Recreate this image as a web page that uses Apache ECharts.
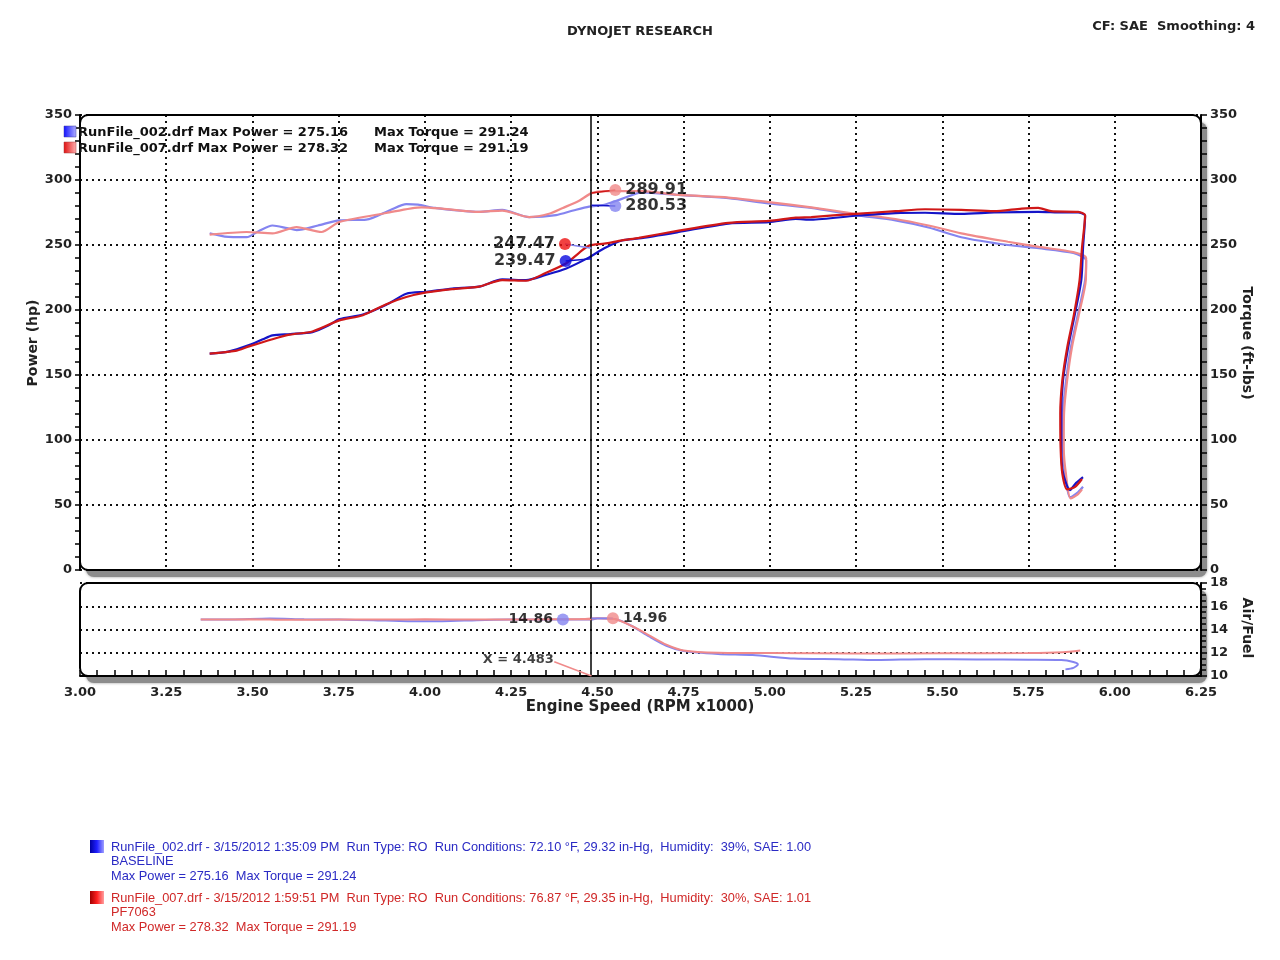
<!DOCTYPE html>
<html><head><meta charset="utf-8">
<script src="https://cdn.jsdelivr.net/npm/echarts@6/dist/echarts.min.js"></script>
<style>html,body{margin:0;padding:0;background:#fff}#c{width:1280px;height:960px}</style>
</head><body><div id="c"></div>
<script>
// ---------------- DATA ----------------
const runNames = ['RunFile_002.drf', 'RunFile_007.drf'];
const maxPower = [275.16, 278.32];
const maxTorque = [291.24, 291.19];
const runInfo = [
  'RunFile_002.drf - 3/15/2012 1:35:09 PM  Run Type: RO  Run Conditions: 72.10 \u00B0F, 29.32 in-Hg,  Humidity:  39%, SAE: 1.00',
  'RunFile_007.drf - 3/15/2012 1:59:51 PM  Run Type: RO  Run Conditions: 76.87 \u00B0F, 29.35 in-Hg,  Humidity:  30%, SAE: 1.01'
];
const runLabels = ['BASELINE', 'PF7063'];

// [rpm x1000, hp]
const power002 = [[3.376,166.5],[3.43,168],[3.49,173],[3.53,177.5],[3.558,180.5],[3.61,181.5],[3.674,183],[3.72,188],[3.752,193],[3.82,196.5],[3.888,204],[3.946,212.5],[4.004,214],[4.079,216.5],[4.157,218],[4.224,223.5],[4.293,223],[4.35,227],[4.41,232],[4.476,240.5],[4.52,247.5],[4.571,253.5],[4.62,255],[4.736,260],[4.88,266.5],[4.997,267.5],[5.075,270],[5.12,269.5],[5.248,272.5],[5.364,274.5],[5.45,274.8],[5.555,274],[5.65,275],[5.778,275.5],[5.85,275],[5.894,275],[5.914,272.5],[5.908,248],[5.903,223],[5.885,197.7],[5.865,171.5],[5.85,146],[5.845,120.8],[5.845,94.6],[5.85,74.6],[5.87,61.5],[5.888,67],[5.908,71.5]];
const power007 = [[3.376,166.5],[3.45,168.5],[3.49,172],[3.558,177.5],[3.608,181],[3.674,183.5],[3.752,192],[3.82,196],[3.888,204.5],[3.946,210],[4.004,213.5],[4.079,216],[4.157,218],[4.224,223],[4.293,222.5],[4.35,228.5],[4.41,236],[4.447,244],[4.476,249.5],[4.52,251],[4.571,253.5],[4.62,255.5],[4.736,261],[4.88,267],[4.997,268.5],[5.075,271],[5.12,271.5],[5.248,274],[5.364,276],[5.45,277.5],[5.555,277],[5.65,276],[5.73,278],[5.778,278.5],[5.815,276],[5.894,275.5],[5.914,273],[5.905,248],[5.898,223],[5.882,197],[5.862,171],[5.848,146],[5.842,120],[5.843,94],[5.848,74],[5.862,62],[5.885,64],[5.905,70]];
// [rpm x1000, ft-lbs]
const torque002 = [[3.376,259],[3.42,256.5],[3.483,256],[3.52,261],[3.558,265],[3.6,263],[3.628,261.5],[3.69,265],[3.752,269],[3.83,269.5],[3.9,277],[3.946,281.5],[3.98,281],[4.03,278.5],[4.157,275.5],[4.224,277],[4.302,271.5],[4.38,273],[4.43,276.5],[4.476,279.5],[4.52,281],[4.571,285.5],[4.63,290.5],[4.736,288.5],[4.88,286],[4.997,282],[5.12,278.5],[5.248,273],[5.364,269],[5.46,263.5],[5.555,256],[5.69,250],[5.78,247.5],[5.88,243.8],[5.917,238],[5.914,223],[5.894,197.7],[5.873,171.5],[5.859,146],[5.85,120.8],[5.85,94.6],[5.856,74.6],[5.87,56],[5.894,60],[5.908,64]];
const torque007 = [[3.376,258],[3.483,260],[3.558,259],[3.628,263.8],[3.7,260],[3.752,267.7],[3.888,274.6],[3.99,279],[4.05,278],[4.157,275.5],[4.224,276.5],[4.302,271.5],[4.36,274],[4.4,278.5],[4.447,284],[4.483,289.9],[4.52,291.5],[4.63,291.5],[4.736,288.5],[4.88,286.5],[4.997,283],[5.12,279],[5.248,274],[5.364,270],[5.46,265],[5.555,259],[5.69,252.5],[5.78,248.5],[5.88,244.5],[5.917,240],[5.916,223],[5.897,197.7],[5.876,171.5],[5.862,146],[5.853,120.8],[5.852,94.6],[5.858,74.6],[5.872,55],[5.892,58],[5.905,62]];
// [rpm x1000, air/fuel]
const afr002 = [[3.35,14.85],[3.45,14.87],[3.55,14.95],[3.65,14.88],[3.75,14.85],[3.85,14.8],[3.95,14.72],[4.05,14.72],[4.15,14.8],[4.25,14.85],[4.35,14.86],[4.483,14.86],[4.5,14.95],[4.55,14.9],[4.6,14.3],[4.65,13.4],[4.7,12.6],[4.75,12.15],[4.85,11.9],[4.95,11.8],[5.07,11.5],[5.2,11.45],[5.31,11.37],[5.45,11.45],[5.6,11.42],[5.75,11.4],[5.845,11.37],[5.88,11.2],[5.893,11.0],[5.88,10.7],[5.857,10.57]];
const afr007 = [[3.35,14.85],[3.5,14.88],[3.6,14.83],[3.75,14.86],[3.9,14.85],[4.0,14.88],[4.15,14.85],[4.3,14.86],[4.45,14.9],[4.5,14.96],[4.55,14.9],[4.6,14.3],[4.65,13.5],[4.7,12.7],[4.75,12.2],[4.85,12.0],[5.0,11.97],[5.25,11.94],[5.5,11.95],[5.75,11.97],[5.85,12.05],[5.9,12.2]];

// cursor readout
const cursorRpm = 4.483;
const powerCursor = [239.47, 247.47];
const torqueCursor = [280.53, 289.91];
const afrCursor = [14.86, 14.96];
const powerCalloutAt = [[4.408, 237.7], [4.406, 250.8]];
const torqueCalloutAt = [[4.552, 280.0], [4.552, 292.3]];
const afrCalloutAt = [[4.40, 14.86], [4.545, 14.96]];
const cursorLabelAt = [4.375, 11.37];

// ---------------- LAYOUT / STYLE ----------------
const P0 = { left:80, top:115, width:1121, height:455 };
const P1 = { left:80, top:583, width:1121, height:93 };
const F = 'DejaVu Sans';
const C = { pBlue:'#1414c8', pRed:'#d01818', tBlue:'#8484f0', tRed:'#f08a8a', dotRed:'#ee1111', dotBlue:'#0a0ae0' };
const dots = { type:[2,4], width:2, color:'#111' };

const chart = echarts.init(document.getElementById('c'));

function leader(from, to, color, xi, yi) {
  return { type:'line', xAxisIndex:xi, yAxisIndex:yi, data:[from, to], showSymbol:false, silent:true,
    lineStyle:{ color, width:1.5 }, z:5 };
}
function callout(pt, value, color, pos, xi, yi, fs) {
  return { type:'scatter', xAxisIndex:xi, yAxisIndex:yi, data:[pt], symbolSize:12, z:6,
    itemStyle:{ color },
    label:{ show:true, position:pos, distance:4, formatter: value.toFixed(2),
      fontFamily:F, fontWeight:'bold', fontSize:fs, color:'#000' } };
}
function line(data, color, yi, xi, w) {
  return { type:'line', xAxisIndex:xi||0, yAxisIndex:yi, data, showSymbol:false, smooth:0.25,
    lineStyle:{ color, width:w||2.2 }, silent:true };
}
function frame(p) {
  return [
    { type:'rect', z:-20, shape:{ x:p.left+6, y:p.top+7, width:p.width, height:p.height, r:8 },
      style:{ fill:'#8c8c8c', shadowBlur:3, shadowColor:'rgba(0,0,0,0.4)' } },
    { type:'rect', z:-10, shape:{ x:p.left, y:p.top, width:p.width, height:p.height, r:8 },
      style:{ fill:'#fff' } },
    { type:'rect', z:1, silent:true, shape:{ x:p.left, y:p.top, width:p.width, height:p.height, r:8 },
      style:{ fill:null, stroke:'#000', lineWidth:2 } }
  ];
}
function txt(x, y, text, font, fill, extra) {
  return Object.assign({ type:'text', x, y, z:10, style:Object.assign({ text, font, fill, verticalAlign:'middle' }, extra||{}) });
}

const legendFont = 'bold 13px "DejaVu Sans"';
const infoFont = '12.8px "Liberation Sans"';

const option = {
  animation:false,
  backgroundColor:'#fff',
  grid:[ Object.assign({ show:false }, P0), Object.assign({ show:false }, P1) ],
  xAxis:[
    { type:'value', gridIndex:0, min:3, max:6.25, interval:0.25,
      axisLine:{ show:false }, axisTick:{ show:false }, axisLabel:{ show:false },
      splitLine:{ show:true, lineStyle:dots } },
    { type:'value', gridIndex:1, min:3, max:6.25, interval:0.25,
      axisLine:{ show:true, lineStyle:{ color:'#000', width:2 } },
      axisTick:{ show:true, inside:true, length:6, lineStyle:{ color:'#000', width:1.5 } },
      minorTick:{ show:true, splitNumber:5, length:6, lineStyle:{ color:'#000', width:1.5 } },
      axisLabel:{ show:true, margin:10, formatter:v=>v.toFixed(2), fontFamily:F, fontWeight:'bold', fontSize:13, color:'#222' },
      splitLine:{ show:false } }
  ],
  yAxis:[
    { type:'value', gridIndex:0, position:'left', min:0, max:350, interval:50,
      axisLine:{ show:true, lineStyle:{ color:'#000', width:2 } },
      axisTick:{ show:true, length:5, lineStyle:{ color:'#000', width:1.5 } },
      minorTick:{ show:true, splitNumber:5, length:5, lineStyle:{ color:'#000', width:1.5 } },
      axisLabel:{ margin:8, fontFamily:F, fontWeight:'bold', fontSize:13, color:'#222' },
      splitLine:{ show:true, lineStyle:dots } },
    { type:'value', gridIndex:0, position:'right', min:0, max:350, interval:50,
      axisLine:{ show:true, lineStyle:{ color:'#000', width:2 } },
      axisTick:{ show:true, length:6, lineStyle:{ color:'#000', width:1.5 } },
      minorTick:{ show:true, splitNumber:5, length:6, lineStyle:{ color:'#000', width:1.5 } },
      axisLabel:{ margin:9, fontFamily:F, fontWeight:'bold', fontSize:13, color:'#222' },
      splitLine:{ show:false } },
    { type:'value', gridIndex:1, position:'right', min:10, max:18, interval:2,
      axisLine:{ show:true, lineStyle:{ color:'#000', width:2 } },
      axisTick:{ show:true, length:6, lineStyle:{ color:'#000', width:1.5 } },
      minorTick:{ show:true, splitNumber:4, length:5, lineStyle:{ color:'#000', width:1.5 } },
      axisLabel:{ margin:9, fontFamily:F, fontWeight:'bold', fontSize:13, color:'#222' },
      splitLine:{ show:true, lineStyle:dots } }
  ],
  graphic:[].concat(frame(P0), frame(P1), [
    { type:'text', left:'center', top:25, style:{ text:'DYNOJET RESEARCH', font:'bold 13px "DejaVu Sans"', fill:'#222' } },
    { type:'text', right:25, top:20, style:{ text:'CF: SAE  Smoothing: 4', font:'bold 13px "DejaVu Sans"', fill:'#222' } },
    { type:'text', x:33, y:343, rotation:Math.PI/2, style:{ text:'Power (hp)', font:'bold 14px "DejaVu Sans"', fill:'#222', align:'center', verticalAlign:'middle' } },
    { type:'text', x:1247, y:343, rotation:-Math.PI/2, style:{ text:'Torque (ft-lbs)', font:'bold 14px "DejaVu Sans"', fill:'#222', align:'center', verticalAlign:'middle' } },
    { type:'text', x:1247, y:628, rotation:-Math.PI/2, style:{ text:'Air/Fuel', font:'bold 14px "DejaVu Sans"', fill:'#222', align:'center', verticalAlign:'middle' } },
    { type:'text', x:640, y:707, style:{ text:'Engine Speed (RPM x1000)', font:'bold 15px "DejaVu Sans"', fill:'#222', align:'center', verticalAlign:'middle' } },
    // top-left legend
    { type:'rect', shape:{ x:64, y:126, width:12, height:11 }, z:10, style:{ fill:new echarts.graphic.LinearGradient(0,0,1,0,[{offset:0,color:'#1010ff'},{offset:1,color:'#b0b0ff'}]), stroke:'#4040a0', lineWidth:0.5 } },
    { type:'rect', shape:{ x:64, y:142, width:12, height:11 }, z:10, style:{ fill:new echarts.graphic.LinearGradient(0,0,1,0,[{offset:0,color:'#e01010'},{offset:1,color:'#ffb0b0'}]), stroke:'#a04040', lineWidth:0.5 } },
    txt(78, 133, runNames[0] + ' Max Power = ' + maxPower[0].toFixed(2), legendFont, '#111'),
    txt(374, 133, 'Max Torque = ' + maxTorque[0].toFixed(2), legendFont, '#111'),
    txt(78, 149, runNames[1] + ' Max Power = ' + maxPower[1].toFixed(2), legendFont, '#111'),
    txt(374, 149, 'Max Torque = ' + maxTorque[1].toFixed(2), legendFont, '#111'),
    // bottom legend
    { type:'rect', shape:{ x:90, y:840, width:14, height:13 }, style:{ fill:new echarts.graphic.LinearGradient(0,0,1,0,[{offset:0,color:'#0000a0'},{offset:0.5,color:'#2020ff'},{offset:1,color:'#a0a0ff'}]) } },
    txt(111, 847, runInfo[0], infoFont, '#2a2ac4'),
    txt(111, 861, runLabels[0], infoFont, '#2a2ac4'),
    txt(111, 876, 'Max Power = ' + maxPower[0].toFixed(2) + '  Max Torque = ' + maxTorque[0].toFixed(2), infoFont, '#2a2ac4'),
    { type:'rect', shape:{ x:90, y:891, width:14, height:13 }, style:{ fill:new echarts.graphic.LinearGradient(0,0,1,0,[{offset:0,color:'#a00000'},{offset:0.5,color:'#ff2020'},{offset:1,color:'#ffa0a0'}]) } },
    txt(111, 898, runInfo[1], infoFont, '#d02828'),
    txt(111, 912, runLabels[1], infoFont, '#d02828'),
    txt(111, 927, 'Max Power = ' + maxPower[1].toFixed(2) + '  Max Torque = ' + maxTorque[1].toFixed(2), infoFont, '#d02828')
  ]),
  series:[
    Object.assign(line(torque002, C.tBlue, 1), {
      markLine:{ silent:true, symbol:'none', label:{ show:false }, lineStyle:{ color:'#000', width:1.5, type:'solid' }, data:[{ xAxis:cursorRpm }] } }),
    line(torque007, C.tRed, 1),
    line(power002, C.pBlue, 0),
    line(power007, C.pRed, 0),
    Object.assign(line(afr002, C.tBlue, 2, 1, 2), {
      markLine:{ silent:true, symbol:'none', label:{ show:false }, lineStyle:{ color:'#000', width:1.5, type:'solid' }, data:[{ xAxis:cursorRpm }] } }),
    line(afr007, C.tRed, 2, 1, 2),
    // callout leaders
    leader(powerCalloutAt[0], [cursorRpm, powerCursor[0]], C.pBlue, 0, 0),
    leader(powerCalloutAt[1], [cursorRpm, powerCursor[1]], C.tBlue, 0, 0),
    leader(torqueCalloutAt[0], [cursorRpm, torqueCursor[0]], C.pBlue, 0, 1),
    leader(torqueCalloutAt[1], [cursorRpm, torqueCursor[1]], C.pRed, 0, 1),
    leader(afrCalloutAt[0], [cursorRpm, afrCursor[0]], C.tRed, 1, 2),
    leader(afrCalloutAt[1], [cursorRpm, afrCursor[1]], C.tBlue, 1, 2),
    leader([cursorLabelAt[0], cursorLabelAt[1] - 0.15], [cursorRpm, 10], C.tRed, 1, 2),
    // callout dots
    callout(powerCalloutAt[0], powerCursor[0], C.dotBlue, 'left', 0, 0, 16),
    callout(powerCalloutAt[1], powerCursor[1], C.dotRed, 'left', 0, 0, 16),
    callout(torqueCalloutAt[0], torqueCursor[0], C.tBlue, 'right', 0, 1, 16),
    callout(torqueCalloutAt[1], torqueCursor[1], C.tRed, 'right', 0, 1, 16),
    callout(afrCalloutAt[0], afrCursor[0], C.tBlue, 'left', 1, 2, 14),
    callout(afrCalloutAt[1], afrCursor[1], C.tRed, 'right', 1, 2, 14),
    { type:'scatter', xAxisIndex:1, yAxisIndex:2, data:[cursorLabelAt], symbolSize:1, itemStyle:{ color:'rgba(0,0,0,0)' }, z:6,
      label:{ show:true, position:'left', distance:0, formatter:'X = ' + cursorRpm.toFixed(3), fontFamily:F, fontWeight:'bold', fontSize:13, color:'#111' } }
  ]
};
chart.setOption(option);
</script></body></html>
